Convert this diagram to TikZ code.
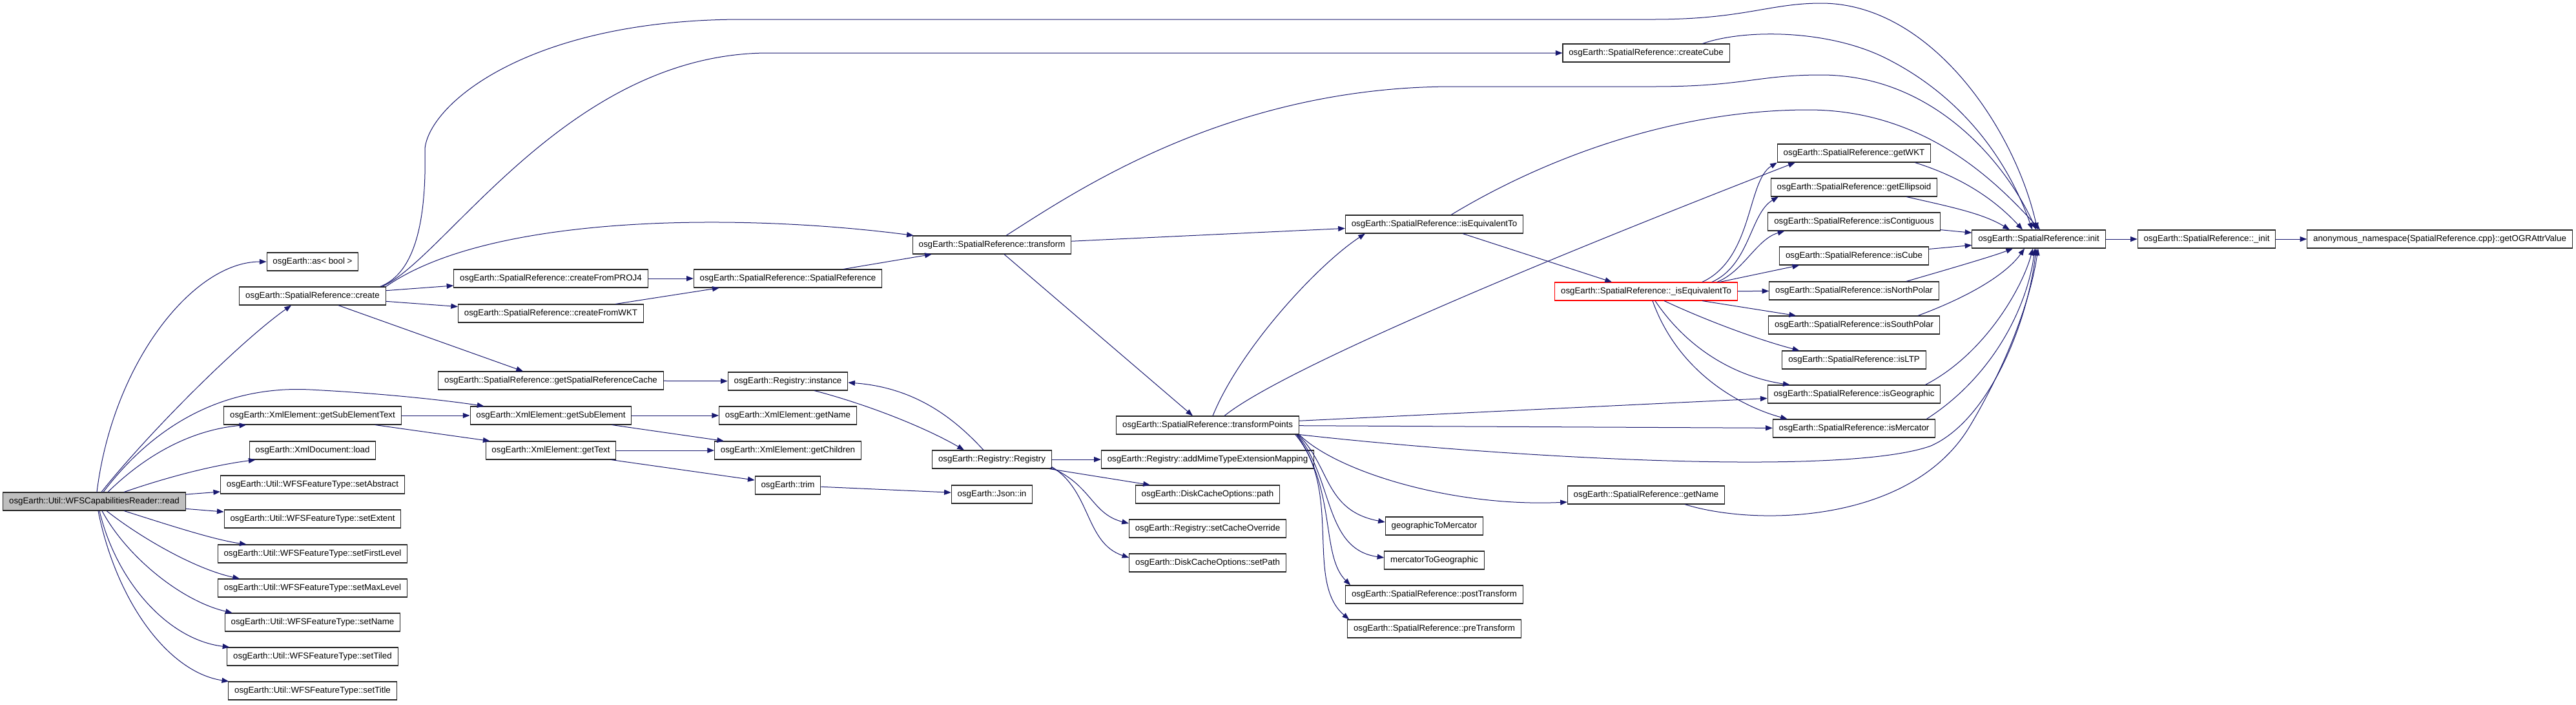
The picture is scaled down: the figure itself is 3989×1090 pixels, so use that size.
\documentclass[tikz,border=0pt]{standalone}
\usepackage{fontspec}
\setmainfont{Liberation Sans}
\usetikzlibrary{arrows.meta,calc}
\definecolor{edgeblue}{HTML}{191970}
\definecolor{curgray}{HTML}{BFBFBF}
\newcommand{\fnfont}{\fontsize{10}{12}\selectfont}

\begin{document}
\begin{tikzpicture}[
  x=0.75pt, y=-0.75pt,
  func/.style={draw=black!85, line width=0.8pt, fill=white, rectangle,
               minimum height=21pt, inner xsep=7pt, inner ysep=2pt,
               font=\fnfont, text=black},
  curfunc/.style={func, fill=curgray},
  redfunc/.style={func, draw=red},
  arr/.style={-{Triangle[length=8pt,width=6pt]}, draw=edgeblue, line width=0.75pt}
]
  \fill[white] (0,0) rectangle (3989,1090);
  \useasboundingbox (0,0) rectangle (3989,1090);

  %% caller
  \node[curfunc] (read) at (146,776) {osgEarth::Util::WFSCapabilitiesReader::read};

  %% column 1
  \node[func] (asbool)        at (484,405)  {osgEarth::as< bool >};
  \node[func] (create)        at (484,458)  {osgEarth::SpatialReference::create};
  \node[func] (getsubtext)    at (484,643)  {osgEarth::XmlElement::getSubElementText};
  \node[func] (xmlload)       at (484,697)  {osgEarth::XmlDocument::load};
  \node[func] (setabstract)   at (484,750)  {osgEarth::Util::WFSFeatureType::setAbstract};
  \node[func] (setextent)     at (484,803)  {osgEarth::Util::WFSFeatureType::setExtent};
  \node[func] (setfirstlevel) at (484,857)  {osgEarth::Util::WFSFeatureType::setFirstLevel};
  \node[func] (setmaxlevel)   at (484,910)  {osgEarth::Util::WFSFeatureType::setMaxLevel};
  \node[func] (setname)       at (484,963)  {osgEarth::Util::WFSFeatureType::setName};
  \node[func] (settiled)      at (484,1016) {osgEarth::Util::WFSFeatureType::setTiled};
  \node[func] (settitle)      at (484,1069) {osgEarth::Util::WFSFeatureType::setTitle};

  %% column 2
  \node[func] (fromproj) at (853,431) {osgEarth::SpatialReference::createFromPROJ4};
  \node[func] (fromwkt)  at (853,485) {osgEarth::SpatialReference::createFromWKT};
  \node[func] (srcache)  at (853,589) {osgEarth::SpatialReference::getSpatialReferenceCache};
  \node[func] (getsub)   at (853,643) {osgEarth::XmlElement::getSubElement};
  \node[func] (gettext)  at (853,697) {osgEarth::XmlElement::getText};

  %% column 3
  \node[func] (srctor)      at (1220,431) {osgEarth::SpatialReference::SpatialReference};
  \node[func] (reginst)     at (1220,590) {osgEarth::Registry::instance};
  \node[func] (xmlgetname)  at (1220,643) {osgEarth::XmlElement::getName};
  \node[func] (getchildren) at (1220,697) {osgEarth::XmlElement::getChildren};
  \node[func] (trim)        at (1220,751) {osgEarth::trim};

  %% column 4
  \node[func] (transform) at (1536,379) {osgEarth::SpatialReference::transform};
  \node[func] (registry)  at (1536,711) {osgEarth::Registry::Registry};
  \node[func] (jsonin)    at (1536,765) {osgEarth::Json::in};

  %% column 5
  \node[func] (tpoints)    at (1870,658) {osgEarth::SpatialReference::transformPoints};
  \node[func] (addmime)    at (1870,711) {osgEarth::Registry::addMimeTypeExtensionMapping};
  \node[func] (dcopath)    at (1870,765) {osgEarth::DiskCacheOptions::path};
  \node[func] (setcacheov) at (1870,818) {osgEarth::Registry::setCacheOverride};
  \node[func] (setpath)    at (1870,871) {osgEarth::DiskCacheOptions::setPath};

  %% column 6
  \node[func] (isequiv)   at (2221,347) {osgEarth::SpatialReference::isEquivalentTo};
  \node[func] (geotomerc) at (2221,814) {geographicToMercator};
  \node[func] (merctogeo) at (2221,867) {mercatorToGeographic};
  \node[func] (posttrans) at (2221,920) {osgEarth::SpatialReference::postTransform};
  \node[func] (pretrans)  at (2221,973) {osgEarth::SpatialReference::preTransform};

  %% column 7
  \node[func]    (createcube)  at (2549,82)  {osgEarth::SpatialReference::createCube};
  \node[redfunc] (isequivpriv) at (2549,451) {osgEarth::SpatialReference::\_isEquivalentTo};
  \node[func]    (srgetname)   at (2549,766) {osgEarth::SpatialReference::getName};

  %% column 8
  \node[func] (getwkt)       at (2871,237) {osgEarth::SpatialReference::getWKT};
  \node[func] (getellipsoid) at (2871,290) {osgEarth::SpatialReference::getEllipsoid};
  \node[func] (iscontig)     at (2871,343) {osgEarth::SpatialReference::isContiguous};
  \node[func] (iscube)       at (2871,396) {osgEarth::SpatialReference::isCube};
  \node[func] (isnorthpolar) at (2871,450) {osgEarth::SpatialReference::isNorthPolar};
  \node[func] (issouthpolar) at (2871,503) {osgEarth::SpatialReference::isSouthPolar};
  \node[func] (isltp)        at (2871,557) {osgEarth::SpatialReference::isLTP};
  \node[func] (isgeographic) at (2871,610) {osgEarth::SpatialReference::isGeographic};
  \node[func] (ismercator)   at (2871,663) {osgEarth::SpatialReference::isMercator};

  %% init chain
  \node[func] (init)     at (3157,370) {osgEarth::SpatialReference::init};
  \node[func] (initpriv) at (3417,370) {osgEarth::SpatialReference::\_init};
  \node[func] (getogr)   at (3778,370) {anonymous\_namespace\{SpatialReference.cpp\}::getOGRAttrValue};

  %% calls from read
  \draw[arr] ($(read.north)+(4,0)$) .. controls (175,560) and (300,405) .. (asbool.west);
  \draw[arr] ($(read.north)+(11,0)$) .. controls (230,670) and (370,530) .. ($(create.south)+(-33,0)$);
  \draw[arr] ($(read.north)+(14,0)$) .. controls (260,630) and (380,598) .. (480,603)
             .. controls (580,608) and (680,618) .. ($(getsub.north west)+(22,0)$);
  \draw[arr] ($(read.north)+(21,0)$) .. controls (230,700) and (300,665) .. ($(getsubtext.south west)+(35,0)$);
  \draw[arr] ($(read.north)+(46,0)$) .. controls (260,738) and (330,720) .. ($(xmlload.south west)+(10,0)$);
  \draw[arr] (read) -- (setabstract);
  \draw[arr] (read) -- (setextent);
  \draw[arr] ($(read.south)+(46,0)$) .. controls (260,812) and (330,835) .. ($(setfirstlevel.north west)+(45,0)$);
  \draw[arr] ($(read.south)+(19,0)$) .. controls (215,830) and (300,880) .. ($(setmaxlevel.north west)+(34,0)$);
  \draw[arr] ($(read.south)+(12,0)$) .. controls (195,860) and (280,930) .. ($(setname.north west)+(12,0)$);
  \draw[arr] ($(read.south)+(8,0)$) .. controls (180,900) and (260,990) .. ($(settiled.north west)+(4,0)$);
  \draw[arr] ($(read.south)+(6,0)$) .. controls (180,930) and (260,1040) .. ($(settitle.north west)+(1,0)$);

  %% calls from create
  \draw[arr] (create) -- (fromproj);
  \draw[arr] (create) -- (fromwkt);
  \draw[arr] ($(create.south)+(40,0)$) -- ($(srcache.north)+(-43,0)$);
  \draw[arr] ($(create.north east)+(-6,0)$) .. controls (690,400) and (880,82) .. (1190,82) -- (createcube.west);
  \draw[arr] (create.north east) .. controls (760,330) and (1150,330) .. ($(transform.north west)+(2,0)$);
  \draw[arr] ($(create.north east)+(-9,0)$) .. controls (650,420) and (660,320) .. (658,230)
             .. controls (665,160) and (820,30) .. (1150,30) -- (2560,30)
             .. controls (2700,30) and (2740,5) .. (2820,5)
             .. controls (2990,5) and (3120,200) .. ($(init.north)+(-2,0)$);

  %% spatial reference construction
  \draw[arr] (fromproj) -- (srctor);
  \draw[arr] ($(fromwkt.north)+(100,0)$) -- ($(srctor.south west)+(40,0)$);
  \draw[arr] ($(srctor.north)+(86,0)$) -- ($(transform.south west)+(30,0)$);
  \draw[arr] (srcache) -- (reginst);

  %% registry
  \draw[arr] ($(reginst.south)+(41,0)$) .. controls (1340,625) and (1430,660) .. ($(registry.north)+(-43,0)$);
  \draw[arr] ($(registry.north)+(-13,0)$) .. controls (1480,650) and (1420,600) .. ($(reginst.east)+(0,2)$);
  \draw[arr] (registry) -- (addmime);
  \draw[arr] ($(registry.south east)+(-4,0)$) -- ($(dcopath.north west)+(23,0)$);
  \draw[arr] ($(registry.south east)+(-2,-2)$) .. controls (1690,750) and (1690,795) .. ($(setcacheov.west)+(0,-8)$);
  \draw[arr] ($(registry.south east)+(0,-3)$) .. controls (1690,760) and (1680,840) .. ($(setpath.west)+(0,-8)$);

  %% xml
  \draw[arr] (getsubtext) -- (getsub);
  \draw[arr] ($(getsubtext.south east)+(-41,0)$) -- ($(gettext.north west)+(7,0)$);
  \draw[arr] (getsub) -- (xmlgetname);
  \draw[arr] ($(getsub.south east)+(-31,0)$) -- ($(getchildren.north west)+(15,0)$);
  \draw[arr] (gettext) -- (getchildren);
  \draw[arr] ($(gettext.south east)+(-8,0)$) -- ($(trim.west)+(0,-8)$);
  \draw[arr] (trim) -- (jsonin);

  %% transform
  \draw[arr] (transform) -- (isequiv);
  \draw[arr] ($(transform.south)+(19,0)$) -- ($(tpoints.north)+(-23,0)$);
  \draw[arr] ($(transform.north)+(22,0)$) .. controls (1660,300) and (1900,134) .. (2250,134) -- (2560,134)
             .. controls (2700,134) and (2720,116) .. (2820,116)
             .. controls (3000,116) and (3110,260) .. ($(init.north)+(-4,0)$);

  %% isEquivalentTo
  \draw[arr] ($(isequiv.south)+(44,0)$) -- ($(isequivpriv.north)+(-53,0)$);
  \draw[arr] ($(isequiv.north)+(26,0)$) .. controls (2400,240) and (2600,170) .. (2800,170)
             .. controls (2980,170) and (3090,280) .. ($(init.north)+(2,0)$);

  %% createCube
  \draw[arr] ($(createcube.north east)+(-42,0)$) .. controls (2700,45) and (2830,45) .. (2920,90)
             .. controls (3040,150) and (3110,250) .. ($(init.north)+(-10,0)$);

  %% transformPoints
  \draw[arr] ($(tpoints.north)+(8,0)$) .. controls (1920,540) and (2040,410) .. ($(isequiv.south west)+(31,0)$);
  \draw[arr] ($(tpoints.north)+(26,0)$) .. controls (2000,560) and (2500,360) .. ($(getwkt.south west)+(28,0)$);
  \draw[arr] (tpoints) -- (isgeographic);
  \draw[arr] (tpoints) -- (ismercator);
  \draw[arr] (tpoints.south east) .. controls (2300,705) and (2850,740) .. (2990,690)
             .. controls (3080,650) and (3140,500) .. ($(init.south)+(-4,0)$);
  \draw[arr] (tpoints.south east) .. controls (2070,730) and (2250,785) .. ($(srgetname.west)+(0,11)$);
  \draw[arr] ($(tpoints.south east)+(-2,0)$) .. controls (2060,720) and (2050,790) .. ($(geotomerc.west)+(0,-6)$);
  \draw[arr] ($(tpoints.south east)+(-3,0)$) .. controls (2065,740) and (2050,850) .. ($(merctogeo.west)+(0,-4)$);
  \draw[arr] ($(tpoints.south east)+(-4,0)$) .. controls (2070,760) and (2045,860) .. ($(posttrans.north west)+(8,0)$);
  \draw[arr] ($(tpoints.south east)+(-6,0)$) .. controls (2080,760) and (2020,900) .. ($(pretrans.north west)+(3,0)$);

  %% _isEquivalentTo
  \draw[arr] ($(isequivpriv.north east)+(-55,0)$) .. controls (2715,400) and (2705,280) .. (getwkt.south west);
  \draw[arr] ($(isequivpriv.north east)+(-40,0)$) .. controls (2710,410) and (2710,330) .. ($(getellipsoid.south west)+(12,0)$);
  \draw[arr] ($(isequivpriv.north east)+(-32,0)$) .. controls (2700,420) and (2720,370) .. ($(iscontig.south west)+(26,0)$);
  \draw[arr] ($(isequivpriv.north east)+(-28,0)$) -- ($(iscube.south west)+(31,0)$);
  \draw[arr] (isequivpriv) -- (isnorthpolar);
  \draw[arr] ($(isequivpriv.south east)+(-55,0)$) -- ($(issouthpolar.north west)+(43,0)$);
  \draw[arr] ($(isequivpriv.south)+(28,0)$) .. controls (2640,495) and (2720,525) .. ($(isltp.north west)+(27,0)$);
  \draw[arr] ($(isequivpriv.south)+(14,0)$) .. controls (2620,550) and (2700,585) .. ($(isgeographic.north west)+(35,0)$);
  \draw[arr] ($(isequivpriv.south)+(10,0)$) .. controls (2600,580) and (2700,630) .. ($(ismercator.north west)+(23,0)$);

  %% into init
  \draw[arr] ($(getwkt.south east)+(-25,0)$) .. controls (3040,275) and (3090,310) .. ($(init.north)+(-25,0)$);
  \draw[arr] ($(getellipsoid.south east)+(-48,0)$) .. controls (3020,320) and (3070,330) .. ($(init.north)+(-45,0)$);
  \draw[arr] (iscontig) -- (init);
  \draw[arr] (iscube) -- (init);
  \draw[arr] ($(isnorthpolar.north east)+(-51,0)$) .. controls (3040,410) and (3090,395) .. ($(init.south)+(-40,0)$);
  \draw[arr] ($(issouthpolar.north east)+(-34,0)$) .. controls (3060,455) and (3110,420) .. ($(init.south)+(-22,0)$);
  \draw[arr] ($(isgeographic.north east)+(-24,0)$) .. controls (3070,550) and (3130,450) .. ($(init.south)+(-9,0)$);
  \draw[arr] ($(ismercator.north east)+(-14,0)$) .. controls (3090,580) and (3140,470) .. ($(init.south)+(-6,0)$);
  \draw[arr] ($(srgetname.south)+(60,0)$) .. controls (2720,815) and (2960,810) .. (3050,660)
             .. controls (3110,560) and (3145,460) .. ($(init.south)+(-1,0)$);

  %% init chain
  \draw[arr] (init) -- (initpriv);
  \draw[arr] (initpriv) -- (getogr);
\end{tikzpicture}
\end{document}
